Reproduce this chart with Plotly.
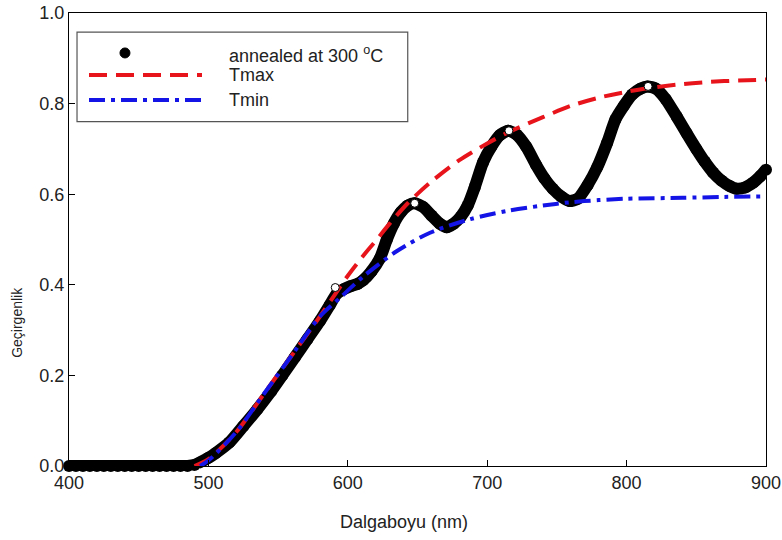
import plotly.graph_objects as go

# Measured transmittance of the film annealed at 300 °C
wavelength = [400, 405, 410, 415, 420, 425, 430, 435, 440, 445, 450, 455, 460, 465,
              470, 475, 480, 485, 490, 494, 500, 505,
              515, 525, 535, 545, 553, 562, 571, 580, 587, 592, 597, 602, 607, 611,
              617, 623, 628, 633, 638, 643, 648, 654, 660, 666, 671, 676, 681, 686,
              691, 697, 703, 709, 715, 721, 728, 735, 741, 747, 753, 759, 765, 772,
              779, 786, 792, 798, 804, 810, 815, 821, 828, 836, 843, 850, 856, 862,
              868, 874, 879, 885, 891, 896, 900]
transmittance = [0.0, 0.0, 0.0, 0.0, 0.0, 0.0, 0.0, 0.0, 0.0, 0.0, 0.0, 0.0, 0.0, 0.0,
                 0.0, 0.0, 0.0, 0.0, 0.002, 0.008, 0.018, 0.028,
                 0.052, 0.088, 0.125, 0.165, 0.200, 0.240, 0.280, 0.320, 0.355, 0.380, 0.390, 0.397, 0.402, 0.410,
                 0.430, 0.458, 0.500, 0.535, 0.560, 0.575, 0.580, 0.572, 0.553, 0.535, 0.527, 0.535, 0.550, 0.575,
                 0.615, 0.670, 0.705, 0.730, 0.740, 0.732, 0.705, 0.665, 0.635, 0.612, 0.595, 0.585, 0.590, 0.620,
                 0.660, 0.713, 0.765, 0.795, 0.820, 0.833, 0.838, 0.833, 0.810, 0.771, 0.735, 0.700, 0.672, 0.648,
                 0.630, 0.618, 0.612, 0.615, 0.626, 0.640, 0.654]

# Open markers sitting on the interference maxima
peak_wavelength = [591, 648, 715.6, 815.4]
peak_transmittance = [0.394, 0.580, 0.740, 0.838]

# Upper envelope through the maxima
tmax_wavelength = [490, 500, 520, 540, 560, 580, 590, 600, 610, 620, 630, 643, 660, 680,
                   700, 716, 740, 760, 780, 800, 815, 840, 860, 880, 900]
tmax_values = [0.0, 0.015, 0.075, 0.160, 0.245, 0.330, 0.375, 0.420, 0.460, 0.497, 0.535, 0.580, 0.628, 0.675,
               0.712, 0.738, 0.770, 0.795, 0.813, 0.826, 0.834, 0.843, 0.848, 0.851, 0.853]

# Lower envelope through the minima
tmin_wavelength = [494, 500, 520, 540, 560, 580, 594, 611, 635, 659, 688, 714, 740, 759,
                   780, 800, 840, 870, 900]
tmin_values = [0.0, 0.012, 0.075, 0.160, 0.245, 0.330, 0.370, 0.418, 0.474, 0.515, 0.545, 0.563, 0.575, 0.582,
               0.587, 0.590, 0.592, 0.594, 0.595]

x_ticks = [400, 500, 600, 700, 800, 900]
y_ticks = [0.0, 0.2, 0.4, 0.6, 0.8, 1.0]

FONT = "Arial, Liberation Sans, sans-serif"
TEXT = "#222222"

fig = go.Figure()

fig.add_trace(go.Scatter(
    x=wavelength, y=transmittance, mode="lines+markers",
    line=dict(color="black", width=12, shape="spline", smoothing=0.6),
    marker=dict(color="black", size=12),
    cliponaxis=False, showlegend=False, name="annealed at 300 °C",
))
fig.add_trace(go.Scatter(
    x=tmax_wavelength, y=tmax_values, mode="lines",
    line=dict(color="#e8141c", width=4, dash="18px,9px", shape="spline", smoothing=0.8),
    showlegend=False, name="Tmax",
))
fig.add_trace(go.Scatter(
    x=tmin_wavelength, y=tmin_values, mode="lines",
    line=dict(color="#1414e6", width=4, dash="16px,6px,4px,6px", shape="spline", smoothing=0.8),
    showlegend=False, name="Tmin",
))
fig.add_trace(go.Scatter(
    x=peak_wavelength, y=peak_transmittance, mode="markers",
    marker=dict(color="white", size=8, line=dict(color="black", width=1)),
    showlegend=False, hoverinfo="skip",
))

# Hand-drawn legend box in paper coordinates
shapes = [
    dict(type="rect", xref="paper", yref="paper", x0=0.0115, x1=0.486, y0=0.760, y1=0.958,
         line=dict(color="#555555", width=1.2), fillcolor="white", layer="above"),
    dict(type="circle", xref="paper", yref="paper", xsizemode="pixel", ysizemode="pixel",
         xanchor=0.0803, yanchor=0.9118, x0=-5, x1=5, y0=-5, y1=5,
         fillcolor="black", line=dict(color="black", width=1), layer="above"),
    dict(type="line", xref="paper", yref="paper", x0=0.0287, x1=0.1908, y0=0.8633, y1=0.8633,
         line=dict(color="#e8141c", width=4, dash="18px,9px"), layer="above"),
    dict(type="line", xref="paper", yref="paper", x0=0.0287, x1=0.1908, y0=0.8081, y1=0.8081,
         line=dict(color="#1414e6", width=4, dash="16px,6px,4px,6px"), layer="above"),
]

legend_labels = ["annealed at 300 <sup>o</sup>C", "Tmax", "Tmin"]
legend_rows = [0.9074, 0.8633, 0.8081]
annotations = [
    dict(text=label, xref="paper", yref="paper", x=0.2267, y=row, xanchor="left", yanchor="middle",
         showarrow=False, font=dict(family=FONT, size=18, color=TEXT))
    for label, row in zip(legend_labels, legend_rows)
]
annotations += [
    dict(text="Dalgaboyu (nm)", xref="paper", yref="paper", x=0.4806, y=-0.1246,
         xanchor="center", yanchor="middle", showarrow=False,
         font=dict(family=FONT, size=18, color=TEXT)),
    dict(text="Geçirgenlik", xref="paper", yref="paper", x=-0.0746, y=0.316,
         xanchor="center", yanchor="middle", showarrow=False, textangle=-90,
         font=dict(family=FONT, size=14, color=TEXT)),
]

axis_common = dict(
    showgrid=False, zeroline=False, showline=True, linecolor="black", linewidth=1.2,
    mirror=True, ticks="inside", ticklen=6, tickwidth=1.2, tickcolor="black",
    tickfont=dict(family=FONT, size=18, color=TEXT), automargin=False,
)

fig.update_layout(
    width=782, height=540,
    margin=dict(l=69, r=16, t=13, b=74),
    paper_bgcolor="white", plot_bgcolor="white",
    showlegend=False,
    shapes=shapes, annotations=annotations,
    xaxis=dict(range=[400, 900], tickvals=x_ticks, ticktext=[str(v) for v in x_ticks], **axis_common),
    yaxis=dict(range=[0, 1.0], tickvals=y_ticks, ticktext=[f"{v:.1f}" for v in y_ticks], **axis_common),
)

fig.write_html("out.html")
